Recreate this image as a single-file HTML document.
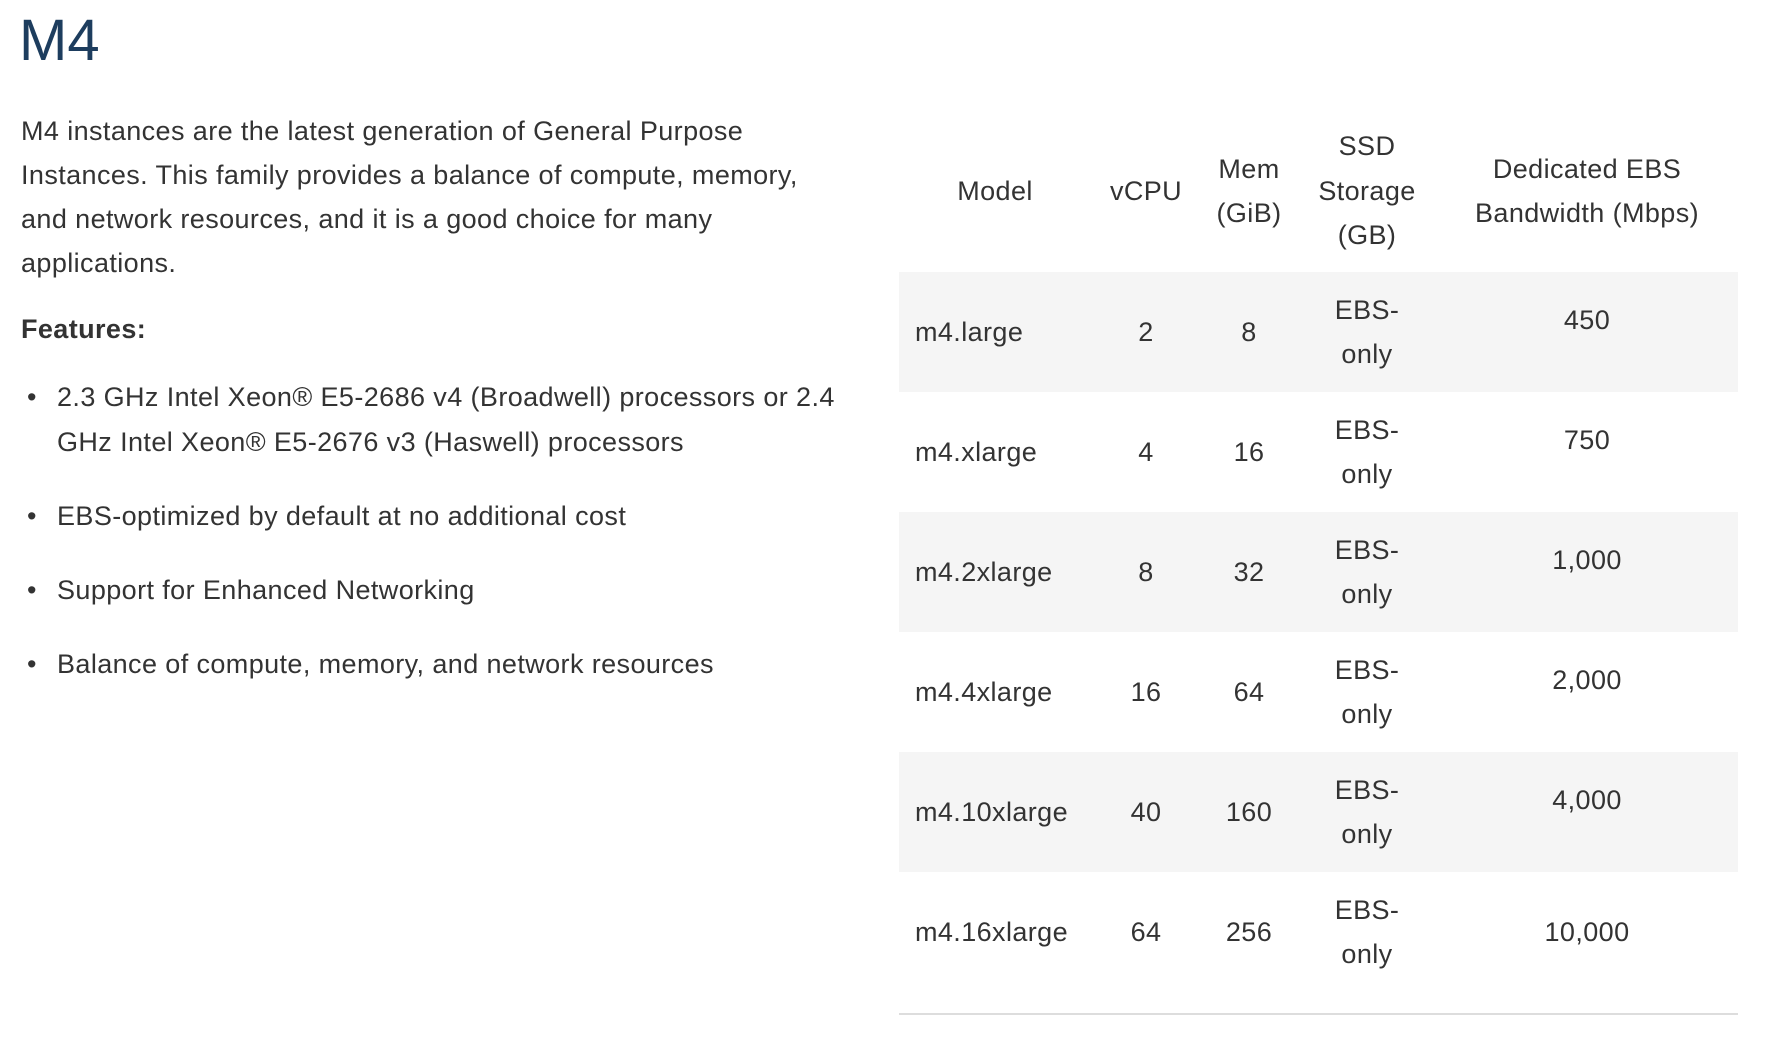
<!DOCTYPE html>
<html><head><meta charset="utf-8"><style>
html,body{margin:0;padding:0;background:#fff;}
body{width:1770px;height:1044px;position:relative;overflow:hidden;font-family:"Liberation Sans",Arial,sans-serif;color:#333;font-size:27px;letter-spacing:0.4px;}
.t{position:absolute;height:44px;line-height:44px;white-space:nowrap;}
.c{transform:translateX(-50%);text-align:center;}
.row{position:absolute;left:899px;width:839px;height:120px;}
</style></head><body>
<div style="position:absolute;left:19px;top:6px;font-size:58px;line-height:70px;color:#1d3d5e;letter-spacing:0;">M4</div>

<div class="t" style="left:21px;top:109px;">M4 instances are the latest generation of General Purpose</div>
<div class="t" style="left:21px;top:153px;">Instances. This family provides a balance of compute, memory,</div>
<div class="t" style="left:21px;top:197px;">and network resources, and it is a good choice for many</div>
<div class="t" style="left:21px;top:241px;">applications.</div>
<div class="t" style="left:21px;top:307px;font-weight:bold;">Features:</div>

<div class="t" style="left:27px;top:375px;">•</div>
<div class="t" style="left:57px;top:375px;">2.3 GHz Intel Xeon® E5-2686 v4 (Broadwell) processors or 2.4</div>
<div class="t" style="left:57px;top:420px;">GHz Intel Xeon® E5-2676 v3 (Haswell) processors</div>
<div class="t" style="left:27px;top:494px;">•</div>
<div class="t" style="left:57px;top:494px;">EBS-optimized by default at no additional cost</div>
<div class="t" style="left:27px;top:568px;">•</div>
<div class="t" style="left:57px;top:568px;">Support for Enhanced Networking</div>
<div class="t" style="left:27px;top:642px;">•</div>
<div class="t" style="left:57px;top:642px;">Balance of compute, memory, and network resources</div>

<!-- header -->
<div class="t c" style="left:995px;top:169px;">Model</div>
<div class="t c" style="left:1146px;top:169px;">vCPU</div>
<div class="t c" style="left:1249px;top:147px;">Mem</div>
<div class="t c" style="left:1249px;top:191px;">(GiB)</div>
<div class="t c" style="left:1367px;top:124px;">SSD</div>
<div class="t c" style="left:1367px;top:169px;">Storage</div>
<div class="t c" style="left:1367px;top:213px;">(GB)</div>
<div class="t c" style="left:1587px;top:147px;">Dedicated EBS</div>
<div class="t c" style="left:1587px;top:191px;">Bandwidth (Mbps)</div>

<div class="row" style="top:272px;background:#f5f5f5;"></div>
<div class="row" style="top:512px;background:#f5f5f5;"></div>
<div class="row" style="top:752px;background:#f5f5f5;"></div>
<div style="position:absolute;left:899px;width:839px;top:1013px;height:2px;background:#ddd;"></div>

<!-- rows -->
<div class="t" style="left:915px;top:310px;">m4.large</div>
<div class="t c" style="left:1146px;top:310px;">2</div>
<div class="t c" style="left:1249px;top:310px;">8</div>
<div class="t c" style="left:1367px;top:288px;">EBS-</div>
<div class="t c" style="left:1367px;top:332px;">only</div>
<div class="t c" style="left:1587px;top:298px;">450</div>

<div class="t" style="left:915px;top:430px;">m4.xlarge</div>
<div class="t c" style="left:1146px;top:430px;">4</div>
<div class="t c" style="left:1249px;top:430px;">16</div>
<div class="t c" style="left:1367px;top:408px;">EBS-</div>
<div class="t c" style="left:1367px;top:452px;">only</div>
<div class="t c" style="left:1587px;top:418px;">750</div>

<div class="t" style="left:915px;top:550px;">m4.2xlarge</div>
<div class="t c" style="left:1146px;top:550px;">8</div>
<div class="t c" style="left:1249px;top:550px;">32</div>
<div class="t c" style="left:1367px;top:528px;">EBS-</div>
<div class="t c" style="left:1367px;top:572px;">only</div>
<div class="t c" style="left:1587px;top:538px;">1,000</div>

<div class="t" style="left:915px;top:670px;">m4.4xlarge</div>
<div class="t c" style="left:1146px;top:670px;">16</div>
<div class="t c" style="left:1249px;top:670px;">64</div>
<div class="t c" style="left:1367px;top:648px;">EBS-</div>
<div class="t c" style="left:1367px;top:692px;">only</div>
<div class="t c" style="left:1587px;top:658px;">2,000</div>

<div class="t" style="left:915px;top:790px;">m4.10xlarge</div>
<div class="t c" style="left:1146px;top:790px;">40</div>
<div class="t c" style="left:1249px;top:790px;">160</div>
<div class="t c" style="left:1367px;top:768px;">EBS-</div>
<div class="t c" style="left:1367px;top:812px;">only</div>
<div class="t c" style="left:1587px;top:778px;">4,000</div>

<div class="t" style="left:915px;top:910px;">m4.16xlarge</div>
<div class="t c" style="left:1146px;top:910px;">64</div>
<div class="t c" style="left:1249px;top:910px;">256</div>
<div class="t c" style="left:1367px;top:888px;">EBS-</div>
<div class="t c" style="left:1367px;top:932px;">only</div>
<div class="t c" style="left:1587px;top:910px;">10,000</div>
</body></html>
